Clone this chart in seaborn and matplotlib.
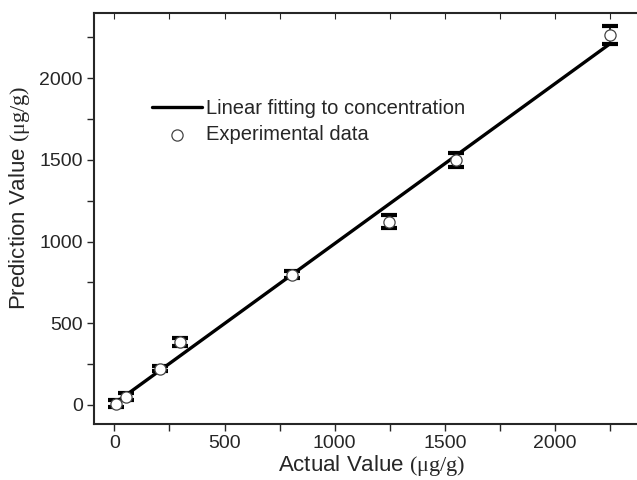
#import packages
import numpy as np
import pandas as pd
import seaborn as sns
import matplotlib.pyplot as plt
from matplotlib.ticker import MultipleLocator

#data
actual = [8, 54, 208, 300, 805, 1245, 1548, 2250]
predicted = [6, 50, 222, 382, 797, 1122, 1500, 2265]
errors = [22, 22, 18, 25, 22, 38, 42, 55]

#end points of the fitted line
fit_x = [5, 2250]
fit_y = [12, 2213]

df = pd.DataFrame({"actual": actual, "predicted": predicted, "err": errors})
fit = pd.DataFrame({"x": fit_x, "y": fit_y})

sns.set_style("ticks")
plt.rcParams['font.family'] = ['Liberation Sans', 'DejaVu Sans']
plt.rcParams['mathtext.fontset'] = 'custom'
plt.rcParams['mathtext.rm'] = 'Liberation Serif'

fig = plt.figure(figsize=(6.37, 4.8), dpi=100)
ax = fig.add_axes([94/637, 1 - 424/480, (650 - 94)/637, (424 - 13)/480])

ax.errorbar(df["actual"], df["predicted"], yerr=df["err"], fmt="none",
            ecolor="black", elinewidth=1.2, capsize=6, capthick=3, zorder=2)
sns.lineplot(data=fit, x="x", y="y", ax=ax, color="black", linewidth=2.4,
             label="Linear fitting to concentration", zorder=3)
sns.scatterplot(data=df, x="actual", y="predicted", ax=ax, s=65,
                facecolor="white", edgecolor="#444444", linewidth=0.9,
                label="Experimental data", zorder=4)

ax.set_xlim(-92, 2430)
ax.set_ylim(-118, 2400)
ax.xaxis.set_major_locator(MultipleLocator(500))
ax.xaxis.set_minor_locator(MultipleLocator(250))
ax.yaxis.set_major_locator(MultipleLocator(500))
ax.yaxis.set_minor_locator(MultipleLocator(250))
ax.tick_params(which="both", direction="out", length=5, width=1, labelsize=14,
               top=False, right=False, pad=3)
for s in ax.spines.values():
    s.set_linewidth(1.5)
    s.set_visible(True)

#inward ticks on the top
sec = ax.secondary_xaxis("top")
sec.xaxis.set_major_locator(MultipleLocator(250))
sec.tick_params(direction="in", length=4, labeltop=False)
sec.spines["top"].set_visible(False)

ax.set_xlabel(r"Actual Value $\mathrm{(μg/g)}$", fontsize=16, labelpad=1)
ax.set_ylabel(r"Prediction Value $\mathrm{(μg/g)}$", fontsize=16)
ax.yaxis.set_label_coords(-0.112, 0.55)

ax.legend(loc="upper left", bbox_to_anchor=(0.09, 0.81), frameon=False,
          fontsize=14.5, handlelength=2.5, handletextpad=0.2, labelspacing=0.35,
          borderaxespad=0)

plt.savefig("out.png", dpi=100)
